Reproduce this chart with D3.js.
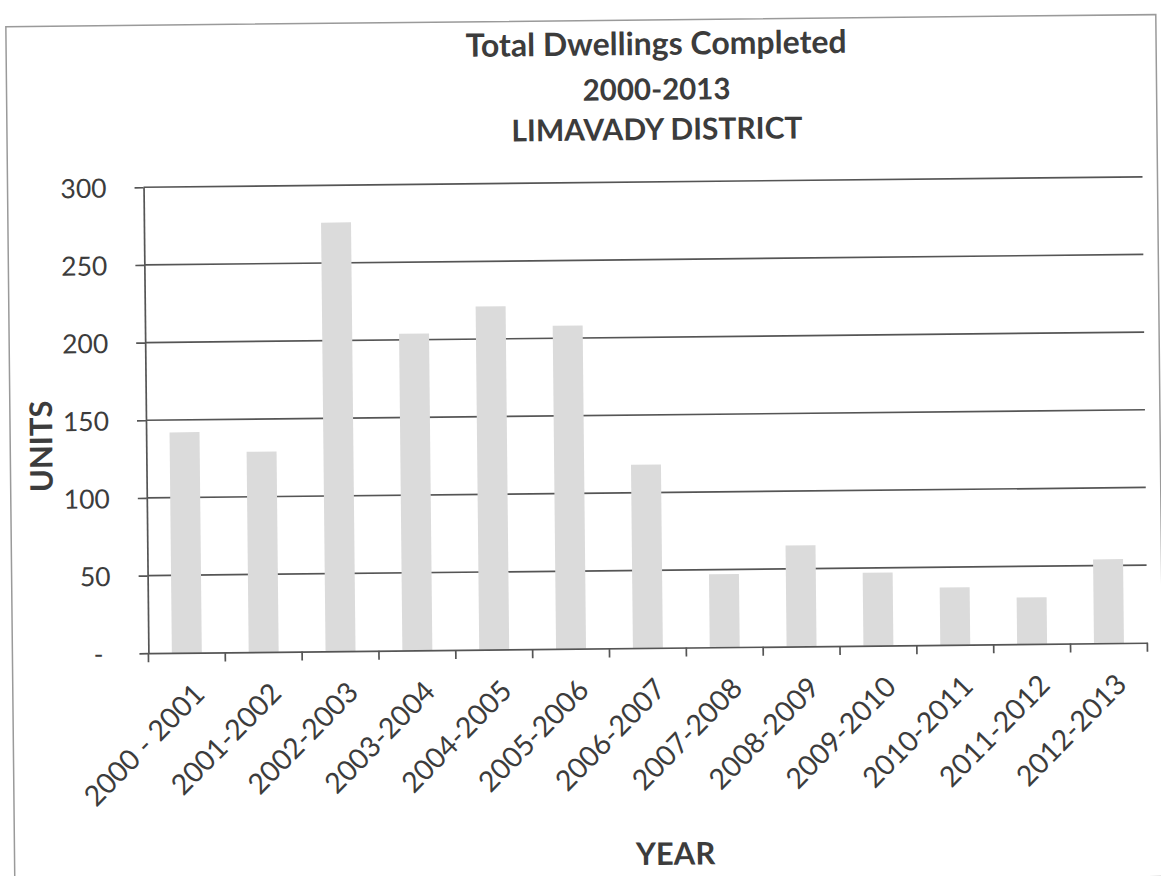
<!DOCTYPE html>
<html>
<head>
<meta charset="utf-8">
<script src="https://cdnjs.cloudflare.com/ajax/libs/d3/7.8.5/d3.min.js"></script>
<style>
  html, body { margin: 0; padding: 0; background: #ffffff; }
  svg { display: block; }
  text { font-family: Lato, "Open Sans", sans-serif; fill: #3c3c3c; }
</style>
</head>
<body>
<svg id="chart" width="1161" height="876"></svg>
<script>
// ---- data ----
const categories = ["2000 - 2001", "2001-2002", "2002-2003", "2003-2004", "2004-2005",
  "2005-2006", "2006-2007", "2007-2008", "2008-2009", "2009-2010",
  "2010-2011", "2011-2012", "2012-2013"];
const units = [142, 129, 276, 204, 221, 208, 118, 47, 65, 47, 37, 30, 54];
const yTickValues = [0, 50, 100, 150, 200, 250, 300];
const yTickLabels = ["-", "50", "100", "150", "200", "250", "300"];
const titleLines = ["Total Dwellings Completed", "2000-2013", "LIMAVADY DISTRICT"];
const xAxisTitle = "YEAR";
const yAxisTitle = "UNITS";

// ---- layout ----
const svg = d3.select("#chart");
const plot = { left: 146, right: 1145, top: 182, bottom: 648 };
const lineColor = "#555555";
const barColor = "#dbdbdb";

// the scanned page is tilted slightly
const root = svg.append("g").attr("transform", "rotate(-0.6, 645, 420)");

// frame of the chart area
root.append("rect")
  .attr("x", 10).attr("y", 20).attr("width", 1150).attr("height", 862)
  .attr("fill", "none").attr("stroke", "#9a9a9a").attr("stroke-width", 1.5);

const x = d3.scaleBand().domain(categories).range([plot.left, plot.right])
  .paddingInner(0.61).paddingOuter(0.305);
const y = d3.scaleLinear().domain([0, 300]).range([plot.bottom, plot.top]);

// gridlines
root.append("g").selectAll("line").data(yTickValues.filter(d => d > 0)).join("line")
  .attr("x1", plot.left).attr("x2", plot.right)
  .attr("y1", d => y(d)).attr("y2", d => y(d))
  .attr("stroke", lineColor).attr("stroke-width", 1.7);

// bars
root.append("g").selectAll("rect").data(units).join("rect")
  .attr("x", (d, i) => x(categories[i]))
  .attr("width", x.bandwidth())
  .attr("y", d => y(d))
  .attr("height", d => y(0) - y(d))
  .attr("fill", barColor);

// y axis
const yAxis = root.append("g").attr("transform", `translate(${plot.left},0)`)
  .call(d3.axisLeft(y).tickValues(yTickValues)
    .tickFormat((d, i) => yTickLabels[i]).tickSize(9).tickSizeOuter(0).tickPadding(28));
yAxis.selectAll("path, line").attr("stroke", lineColor).attr("stroke-width", 1.7);
yAxis.selectAll("text").attr("font-size", 26.5).attr("font-family", "Lato").attr("fill", "#3c3c3c")
  .attr("dy", "0.36em");
yAxis.selectAll("text").filter(d => d === 0).attr("dx", -8);

// x axis
const xAxis = root.append("g").attr("transform", `translate(0,${plot.bottom})`)
  .call(d3.axisBottom(x).tickSize(0).tickSizeOuter(0).tickPadding(0));
xAxis.selectAll("path").attr("stroke", lineColor).attr("stroke-width", 1.7);
xAxis.selectAll("text")
  .attr("font-size", 28.5).attr("font-family", "Lato").attr("fill", "#3c3c3c")
  .attr("text-anchor", "end").attr("x", 0).attr("y", 0).attr("dy", null)
  .attr("transform", "translate(19,43) rotate(-45)");

// category boundary tick marks
const boundaries = d3.range(categories.length + 1).map(i => plot.left + i * x.step());
root.append("g").selectAll("line").data(boundaries).join("line")
  .attr("x1", d => d).attr("x2", d => d)
  .attr("y1", plot.bottom).attr("y2", plot.bottom + 9)
  .attr("stroke", lineColor).attr("stroke-width", 1.7);

// title
root.append("g").selectAll("text").data(titleLines).join("text")
  .attr("x", 660).attr("y", (d, i) => [55, 100, 140][i])
  .attr("text-anchor", "middle").attr("font-weight", "bold")
  .attr("font-size", (d, i) => [32, 29.5, 30][i])
  .text(d => d);

// axis titles
root.append("text").attr("x", 671).attr("y", 865)
  .attr("text-anchor", "middle").attr("font-weight", "bold").attr("font-size", 31)
  .text(xAxisTitle);
root.append("text").attr("transform", "translate(52,440) rotate(-90)")
  .attr("text-anchor", "middle").attr("font-weight", "bold").attr("font-size", 31)
  .text(yAxisTitle);
</script>
</body>
</html>
